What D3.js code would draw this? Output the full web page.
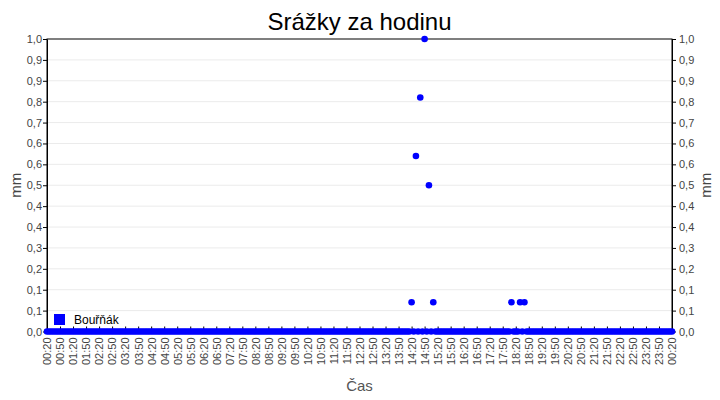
<!DOCTYPE html>
<html>
<head>
<meta charset="utf-8">
<script src="https://cdn.jsdelivr.net/npm/d3@7/dist/d3.min.js"></script>
<style>
  body { margin: 0; background: #fff; }
  svg { display: block; font-family: "Liberation Sans", Arial, sans-serif; }
</style>
</head>
<body>
<div id="chart"></div>
<script>
// srážky po 5 minutách, od 00:20 do 00:20 dalšího dne (jeden řádek = hodina)
const seriesName = "Bouřňák";
const startTime = "2000-01-01 00:20";
const stepMinutes = 5;
const rainValues = [
  0, 0, 0, 0, 0, 0, 0, 0, 0, 0, 0, 0,     // 00:20
  0, 0, 0, 0, 0, 0, 0, 0, 0, 0, 0, 0,     // 01:20
  0, 0, 0, 0, 0, 0, 0, 0, 0, 0, 0, 0,     // 02:20
  0, 0, 0, 0, 0, 0, 0, 0, 0, 0, 0, 0,     // 03:20
  0, 0, 0, 0, 0, 0, 0, 0, 0, 0, 0, 0,     // 04:20
  0, 0, 0, 0, 0, 0, 0, 0, 0, 0, 0, 0,     // 05:20
  0, 0, 0, 0, 0, 0, 0, 0, 0, 0, 0, 0,     // 06:20
  0, 0, 0, 0, 0, 0, 0, 0, 0, 0, 0, 0,     // 07:20
  0, 0, 0, 0, 0, 0, 0, 0, 0, 0, 0, 0,     // 08:20
  0, 0, 0, 0, 0, 0, 0, 0, 0, 0, 0, 0,     // 09:20
  0, 0, 0, 0, 0, 0, 0, 0, 0, 0, 0, 0,     // 10:20
  0, 0, 0, 0, 0, 0, 0, 0, 0, 0, 0, 0,     // 11:20
  0, 0, 0, 0, 0, 0, 0, 0, 0, 0, 0, 0,     // 12:20
  0, 0, 0, 0, 0, 0, 0, 0, 0, 0, 0, 0,     // 13:20
  0.1, 0, 0.6, 0, 0.8, 0, 1.0, 0, 0.5, 0, 0.1, 0, // 14:20
  0, 0, 0, 0, 0, 0, 0, 0, 0, 0, 0, 0,     // 15:20
  0, 0, 0, 0, 0, 0, 0, 0, 0, 0, 0, 0,     // 16:20
  0, 0, 0, 0, 0, 0, 0, 0, 0, 0, 0.1, 0,   // 17:20
  0, 0, 0.1, 0, 0.1, 0, 0, 0, 0, 0, 0, 0, // 18:20
  0, 0, 0, 0, 0, 0, 0, 0, 0, 0, 0, 0,     // 19:20
  0, 0, 0, 0, 0, 0, 0, 0, 0, 0, 0, 0,     // 20:20
  0, 0, 0, 0, 0, 0, 0, 0, 0, 0, 0, 0,     // 21:20
  0, 0, 0, 0, 0, 0, 0, 0, 0, 0, 0, 0,     // 22:20
  0, 0, 0, 0, 0, 0, 0, 0, 0, 0, 0, 0,     // 23:20
  0                                       // 00:20
];

const xTickLabels = [
  "00:20","00:50","01:20","01:50","02:20","02:50","03:20","03:50",
  "04:20","04:50","05:20","05:50","06:20","06:50","07:20","07:50",
  "08:20","08:50","09:20","09:50","10:20","10:50","11:20","11:50",
  "12:20","12:50","13:20","13:50","14:20","14:50","15:20","15:50",
  "16:20","16:50","17:20","17:50","18:20","18:50","19:20","19:50",
  "20:20","20:50","21:20","21:50","22:20","22:50","23:20","23:50",
  "00:20"
];
const yTickLabels = [
  "0,0","0,1","0,1","0,2","0,3","0,4","0,4","0,5",
  "0,6","0,6","0,7","0,8","0,9","0,9","1,0"
];
const yMax = 1.0;

const width = 720, height = 400;
const margin = { top: 39, right: 48, bottom: 68.5, left: 47 };
const plotW = width - margin.left - margin.right;
const plotH = height - margin.top - margin.bottom;

const parse = d3.timeParse("%Y-%m-%d %H:%M");
const t0 = parse(startTime);
const points = rainValues.map((v, i) => ({ t: d3.timeMinute.offset(t0, i * stepMinutes), v: v }));
const tEnd = points[points.length - 1].t;

// popisky osy x po 30 minutách od začátku
const xTickTimes = xTickLabels.map((s, i) => d3.timeMinute.offset(t0, i * 30));
const yTickValues = yTickLabels.map((s, i) => i * yMax / (yTickLabels.length - 1));

const svg = d3.select("#chart").append("svg")
  .attr("width", width)
  .attr("height", height);

const x = d3.scaleTime().domain([t0, tEnd]).range([0, plotW]);
const y = d3.scaleLinear().domain([0, yMax]).range([plotH, 0]);

const g = svg.append("g").attr("transform", `translate(${margin.left},${margin.top})`);

// mřížka
g.append("g").selectAll("line")
  .data(yTickValues.slice(1, -1))
  .enter().append("line")
  .attr("x1", 0).attr("x2", plotW)
  .attr("y1", d => y(d)).attr("y2", d => y(d))
  .attr("stroke", "#ebebeb")
  .attr("stroke-width", 1);

// rámeček
g.append("rect")
  .attr("x", 0).attr("y", 0)
  .attr("width", plotW).attr("height", plotH)
  .attr("fill", "none")
  .attr("stroke", "#000")
  .attr("stroke-width", 1);

function styleAxis(sel) {
  sel.select(".domain").attr("stroke", "#000");
  sel.selectAll(".tick line").attr("stroke", "#000");
  sel.selectAll("text").attr("fill", "#444").style("font-size", "11px");
}

const yAxisL = d3.axisLeft(y).tickValues(yTickValues)
  .tickFormat((d, i) => yTickLabels[i]).tickSize(4).tickPadding(1).tickSizeOuter(0);
const yAxisR = d3.axisRight(y).tickValues(yTickValues)
  .tickFormat((d, i) => yTickLabels[i]).tickSize(4).tickPadding(3).tickSizeOuter(0);

g.append("g").call(yAxisL).call(styleAxis);
g.append("g").attr("transform", `translate(${plotW},0)`).call(yAxisR).call(styleAxis);

const xAxis = d3.axisBottom(x).tickValues(xTickTimes)
  .tickFormat((d, i) => xTickLabels[i]).tickSize(-5).tickSizeOuter(0);

const gx = g.append("g").attr("transform", `translate(0,${plotH})`).call(xAxis).call(styleAxis);
gx.selectAll("text")
  .attr("transform", "rotate(-90)")
  .attr("text-anchor", "end")
  .attr("x", -6)
  .attr("y", 0)
  .attr("dy", "0.35em");

// body
g.append("g").selectAll("circle")
  .data(points)
  .enter().append("circle")
  .attr("cx", d => x(d.t))
  .attr("cy", d => y(d.v))
  .attr("r", 3.3)
  .attr("fill", "#0000ff");

// nadpis
svg.append("text")
  .attr("x", margin.left + plotW / 2)
  .attr("y", 30)
  .attr("text-anchor", "middle")
  .style("font-size", "24px")
  .attr("fill", "#000")
  .text("Srážky za hodinu");

// popisky os
svg.append("text")
  .attr("transform", `translate(21,${margin.top + plotH / 2}) rotate(-90)`)
  .attr("text-anchor", "middle")
  .style("font-size", "15px")
  .attr("fill", "#444")
  .text("mm");

svg.append("text")
  .attr("transform", `translate(711,${margin.top + plotH / 2}) rotate(-90)`)
  .attr("text-anchor", "middle")
  .style("font-size", "15px")
  .attr("fill", "#444")
  .text("mm");

svg.append("text")
  .attr("x", margin.left + plotW / 2)
  .attr("y", 391)
  .attr("text-anchor", "middle")
  .style("font-size", "15px")
  .attr("fill", "#555")
  .text("Čas");

// legenda
const lg = svg.append("g").attr("transform", `translate(54,314)`);
lg.append("rect").attr("width", 11).attr("height", 11).attr("fill", "#0000ff");
lg.append("text")
  .attr("x", 20).attr("y", 10)
  .style("font-size", "12px")
  .attr("fill", "#000")
  .text(seriesName);
</script>
</body>
</html>
